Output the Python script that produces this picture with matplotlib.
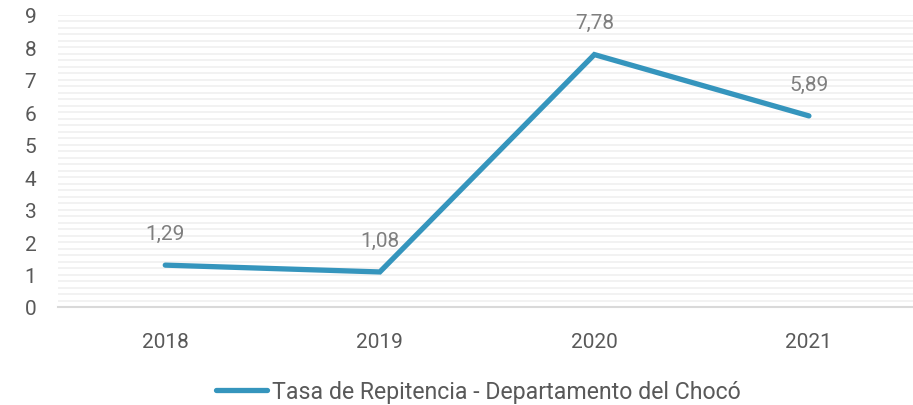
import matplotlib.pyplot as plt
import numpy as np

years = ['2018', '2019', '2020', '2021']
tasa = [1.29, 1.08, 7.78, 5.89]
etiquetas = ['1,29', '1,08', '7,78', '5,89']
serie = 'Tasa de Repitencia - Departamento del Chocó'

plt.rcParams['font.family'] = ['Roboto', 'DejaVu Sans']

fig = plt.figure(figsize=(9.13, 4.06), dpi=100)
ax = fig.add_axes([0.0635, 0.2414, 0.94, 0.7192])

x = np.arange(len(years))
ax.plot(x, tasa, color='#3595bd', linewidth=3.8, solid_capstyle='round',
        solid_joinstyle='miter', label=serie, zorder=3)

for xi, yi, lab in zip(x, tasa, etiquetas):
    ax.annotate(lab, (xi, yi), xytext=(0, 16), textcoords='offset points',
                ha='center', va='bottom', fontsize=15, color='#7f7f7f')

ax.set_xlim(-0.5, 3.5)
ax.set_ylim(0, 9)
ax.set_xticks(x)
ax.set_xticklabels(years)
ax.set_yticks(range(10))

# dense light gridlines every 0.2
for g in np.arange(0.2, 9.01, 0.2):
    ax.axhline(g, color='#f2f2f2', linewidth=1.4, zorder=1)

for s in ['top', 'right', 'left']:
    ax.spines[s].set_visible(False)
ax.spines['bottom'].set_color('#d9d9d9')
ax.spines['bottom'].set_linewidth(1.5)

ax.tick_params(axis='both', length=0, labelsize=15, labelcolor='#595959')
ax.tick_params(axis='x', pad=18)
ax.tick_params(axis='y', pad=24)
for t in ax.get_yticklabels():
    t.set_horizontalalignment('left')

leg = fig.legend(loc='lower center', bbox_to_anchor=(0.524, -0.047), frameon=False,
                 fontsize=16.7, handlelength=2.2, handletextpad=0.2)
for t in leg.get_texts():
    t.set_color('#595959')

fig.savefig('out.png', dpi=100)
